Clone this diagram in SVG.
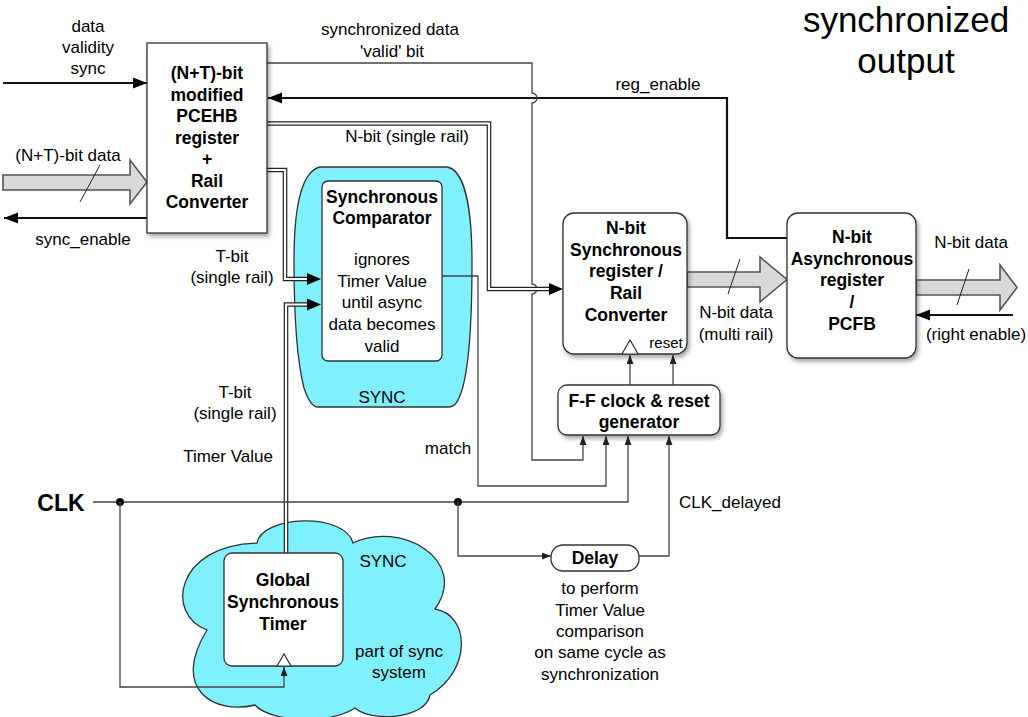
<svg xmlns="http://www.w3.org/2000/svg" width="1028" height="717" viewBox="0 0 1028 717">
<style>
text{font-family:"Liberation Sans",Arial,sans-serif;fill:#000}
.r{font-size:17px;text-anchor:middle}
.b{font-size:17.5px;font-weight:bold;text-anchor:middle}
.box{fill:#fff;stroke:#333;stroke-width:1.3}
.thin{fill:none;stroke:#444;stroke-width:1.3}
.thick{fill:none;stroke:#111;stroke-width:2.2}
.dblo{fill:none;stroke:#222;stroke-width:4.6}
.dbli{fill:none;stroke:#fff;stroke-width:2.2}
.fat{fill:#d9d9d9;stroke:#555;stroke-width:1.6}
.sync{fill:#7ff0fe;stroke:#333;stroke-width:1.3}
.tri{fill:#fff;stroke:#333;stroke-width:1.2}
</style>
<defs>
<filter id="sh" x="-10%" y="-10%" width="130%" height="130%">
<feDropShadow dx="2" dy="3" stdDeviation="2" flood-color="#000" flood-opacity="0.35"/>
</filter>
<marker id="aL" markerUnits="userSpaceOnUse" markerWidth="15" markerHeight="12" refX="14" refY="5.5" orient="auto">
<path d="M0,0 L14,5.5 L0,11 Z" fill="#000"/>
</marker>
<marker id="aS" markerUnits="userSpaceOnUse" markerWidth="10" markerHeight="8" refX="9" refY="3.5" orient="auto">
<path d="M0,0 L9,3.5 L0,7 Z" fill="#222"/>
</marker>
</defs>

<!-- title -->
<text x="906" y="32" style="font-size:35px;text-anchor:middle">synchronized</text>
<text x="906" y="73" style="font-size:35px;text-anchor:middle">output</text>

<!-- SYNC regions -->
<g id="sync-comparator-region">
<path class="sync" d="M320,167 L447,167 C465,170 472,210 472,263 C472,330 468,370 462,390 C458,402 455,407 448,407 L318,407 C312,407 308,400 304,388 C298,365 294,330 294,260 C294,210 300,172 320,167 Z"/>
<text class="r" x="382" y="403">SYNC</text>
</g>
<g id="sync-cloud">
<path class="sync" d="M257,543 C262,515 345,512 353,543 C400,520 470,560 435,609 C470,615 472,670 430,695 C425,720 370,722 355,708 C330,725 270,722 255,705 C215,715 170,690 207,630 C165,615 175,545 257,543 Z"/>
<text class="r" x="383" y="567">SYNC</text>
<text class="r" x="399" y="657">part of sync</text>
<text class="r" x="399" y="678">system</text>
</g>

<!-- connectors -->
<g id="connectors">
<!-- data validity sync -->
<line class="thick" x1="3" y1="83" x2="147" y2="83" marker-end="url(#aL)"/>
<!-- sync_enable -->
<line class="thick" x1="147" y1="218" x2="4" y2="218" marker-end="url(#aL)"/>
<!-- (N+T)-bit data fat arrow -->
<polygon class="fat" points="3,175 130,175 130,160 147,182 130,204 130,190 3,190"/>
<line x1="100" y1="165" x2="80" y2="202" stroke="#222" stroke-width="1"/>
<!-- reg_enable -->
<polyline class="thick" points="787,238 727,238 727,98 268,98" marker-end="url(#aL)"/>
<!-- synchronized data valid bit -->
<path class="thin" d="M267,63 L532,63 L532,93 A5,5 0 0 1 532,103 L532,284 A5,5 0 0 1 532,294 L532,460 L583,460 L583,436" marker-end="url(#aS)"/>
<!-- N-bit single rail double line -->
<polyline class="dblo" points="267,123.5 489,123.5 489,289 550,289"/>
<polyline class="dbli" points="265,123.5 489,123.5 489,289 551,289"/>
<polygon points="549,283 563,289 549,295" fill="#000"/>
<!-- T-bit from PCEHB -->
<polyline class="dblo" points="267,170 285,170 285,279 308,279"/>
<polyline class="dbli" points="265,170 285,170 285,279 309,279"/>
<polygon points="307,273 321,279 307,285" fill="#000"/>
<!-- T-bit from timer -->
<polyline class="dblo" points="286,553 286,304.5 308,304.5"/>
<polyline class="dbli" points="286,555 286,304.5 309,304.5"/>
<polygon points="307,298.5 321,304.5 307,310.5" fill="#000"/>
<!-- match -->
<polyline class="thin" points="442,276 478,276 478,486 606,486 606,436" marker-end="url(#aS)"/>
<!-- CLK -->
<polyline class="thin" points="93,502 628,502 628,436" marker-end="url(#aS)"/>
<circle cx="120" cy="502" r="4" fill="#111"/>
<circle cx="458" cy="502" r="4" fill="#111"/>
<polyline class="thin" points="120,502 120,687 284,687 284,667" marker-end="url(#aS)"/>
<polyline class="thin" points="458,502 458,556 551,556" marker-end="url(#aS)"/>
<!-- CLK_delayed -->
<polyline class="thin" points="639,556 669,556 669,436" marker-end="url(#aS)"/>
<!-- F-F to register -->
<line class="thin" x1="630" y1="385" x2="630" y2="355" marker-end="url(#aS)"/>
<line class="thin" x1="673" y1="385" x2="673" y2="355" marker-end="url(#aS)"/>
<!-- multi rail fat arrow -->
<polygon class="fat" points="687,272 760,272 760,257 787,279.5 760,302 760,287 687,287"/>
<line x1="740" y1="259" x2="728" y2="294" stroke="#222" stroke-width="1"/>
<!-- output fat arrow -->
<polygon class="fat" points="916,280 1000,280 1000,265 1017,287.5 1000,310 1000,295 916,295"/>
<line x1="969" y1="269" x2="957" y2="305" stroke="#222" stroke-width="1"/>
<!-- right enable -->
<line class="thick" x1="1013" y1="315" x2="916" y2="315" marker-end="url(#aL)"/>
</g>

<!-- nodes -->
<g id="pcehb">
<rect class="box" x="147" y="43" width="120" height="190" filter="url(#sh)"/>
<text class="b" x="207" y="79">(N+T)-bit</text>
<text class="b" x="207" y="100.5">modified</text>
<text class="b" x="207" y="122">PCEHB</text>
<text class="b" x="207" y="143.5">register</text>
<text class="b" x="207" y="165">+</text>
<text class="b" x="207" y="186.5">Rail</text>
<text class="b" x="207" y="208">Converter</text>
</g>

<g id="comparator">
<rect class="box" x="322" y="181" width="120" height="180" rx="6"/>
<text class="b" x="382" y="203">Synchronous</text>
<text class="b" x="382" y="224">Comparator</text>
<text class="r" x="382" y="265">ignores</text>
<text class="r" x="382" y="287">Timer Value</text>
<text class="r" x="382" y="308">until async</text>
<text class="r" x="382" y="330">data becomes</text>
<text class="r" x="382" y="352">valid</text>
</g>

<g id="sync-register">
<rect class="box" x="563" y="213" width="124" height="141" rx="11" filter="url(#sh)"/>
<text class="b" x="626" y="234">N-bit</text>
<text class="b" x="626" y="256">Synchronous</text>
<text class="b" x="626" y="277">register /</text>
<text class="b" x="626" y="299">Rail</text>
<text class="b" x="626" y="321">Converter</text>
<text x="666" y="348" style="font-size:15px;text-anchor:middle">reset</text>
<polygon class="tri" points="622,354 630,340 638,354"/>
</g>

<g id="ff-generator">
<rect class="box" x="558" y="385" width="162" height="50" rx="9" filter="url(#sh)"/>
<text class="b" x="639" y="407">F-F clock &amp; reset</text>
<text class="b" x="639" y="428">generator</text>
</g>

<g id="async-register">
<rect class="box" x="787" y="213" width="129" height="145" rx="11" filter="url(#sh)"/>
<text class="b" x="852" y="243">N-bit</text>
<text class="b" x="852" y="265">Asynchronous</text>
<text class="b" x="852" y="286">register</text>
<text class="b" x="852" y="308">/</text>
<text class="b" x="852" y="330">PCFB</text>
</g>

<g id="delay">
<rect class="box" x="551" y="545" width="88" height="26" rx="12"/>
<text class="b" x="595" y="564">Delay</text>
</g>

<g id="timer">
<rect class="box" x="224" y="553" width="119" height="113" rx="8"/>
<text class="b" x="283" y="586">Global</text>
<text class="b" x="283" y="608">Synchronous</text>
<text class="b" x="283" y="630">Timer</text>
<polygon class="tri" points="277,666 284,654 291,666"/>
</g>

<!-- labels -->
<g id="labels">
<text class="r" x="88" y="32">data</text>
<text class="r" x="88" y="53">validity</text>
<text class="r" x="88" y="74">sync</text>
<text class="r" x="68" y="161">(N+T)-bit data</text>
<text class="r" x="83" y="245">sync_enable</text>
<text class="r" x="390" y="35">synchronized data</text>
<text class="r" x="392" y="57">'valid' bit</text>
<text class="r" x="658" y="90">reg_enable</text>
<text class="r" x="407" y="142">N-bit (single rail)</text>
<text class="r" x="232" y="262">T-bit</text>
<text class="r" x="232" y="283">(single rail)</text>
<text class="r" x="235" y="398">T-bit</text>
<text class="r" x="235" y="419">(single rail)</text>
<text class="r" x="228" y="462">Timer Value</text>
<text class="r" x="448" y="454">match</text>
<text x="61" y="511" style="font-size:23px;font-weight:bold;text-anchor:middle">CLK</text>
<text class="r" x="730" y="508">CLK_delayed</text>
<text class="r" x="736" y="318">N-bit data</text>
<text class="r" x="736" y="340">(multi rail)</text>
<text class="r" x="971" y="248">N-bit data</text>
<text class="r" x="976" y="340">(right enable)</text>
<text class="r" x="600" y="594">to perform</text>
<text class="r" x="600" y="616">Timer Value</text>
<text class="r" x="600" y="637">comparison</text>
<text class="r" x="600" y="658">on same cycle as</text>
<text class="r" x="600" y="680">synchronization</text>
</g>
</svg>
